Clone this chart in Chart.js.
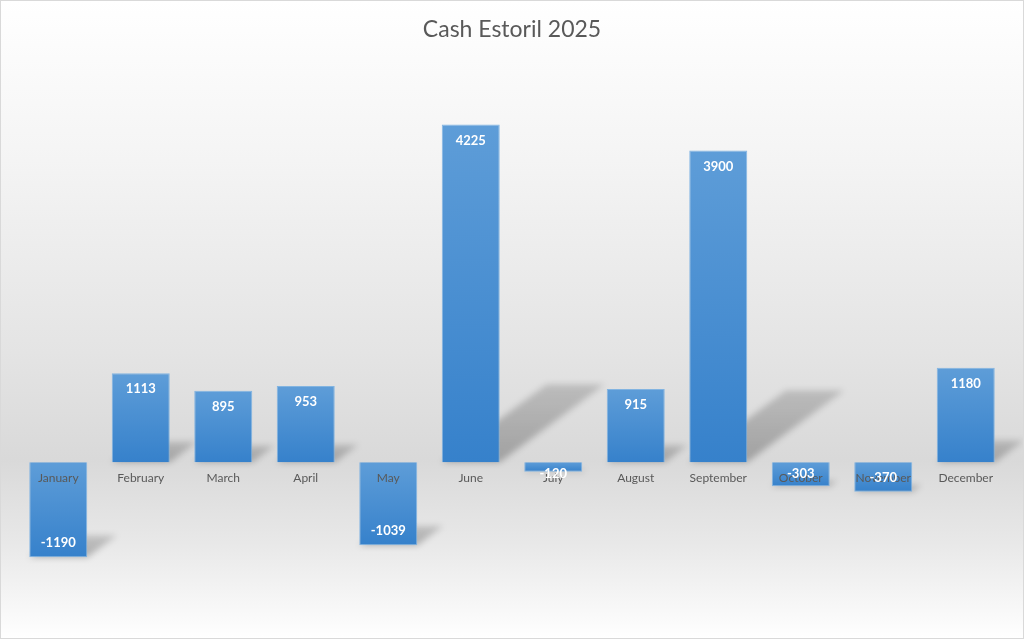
<!DOCTYPE html>
<html>
<head>
<meta charset="utf-8">
<script src="https://cdn.jsdelivr.net/npm/chart.js@4.4.1/dist/chart.umd.min.js"></script>
<style>
  html, body { margin: 0; padding: 0; background: #ffffff; }
  #wrap {
    position: relative; width: 1022px; height: 637px;
    border: 1px solid #d9d9d9;
    background: linear-gradient(to bottom, #ffffff 0%, #f4f4f4 25%, #e4e4e4 55%, #d9d9d9 72%, #e8e8e8 85%, #fafafa 97%, #ffffff 100%);
  }
  canvas { display: block; }
</style>
</head>
<body>
<div id="wrap"><canvas id="c" width="1022" height="637"></canvas></div>
<script>
const chartTitle = "Cash Estoril 2025";
const months = ["January","February","March","April","May","June","July","August","September","October","November","December"];
const cashValues = [-1190, 1113, 895, 953, -1039, 4225, -120, 915, 3900, -303, -370, 1180];
const yMin = -1725;
const yMax = 4900;

function barGradient(ctx) {
  const chart = ctx.chart;
  const ys = chart.scales && chart.scales.y;
  if (!chart.chartArea || !ys || ctx.parsed === undefined) return '#4a90d2';
  const v = ctx.parsed.y;
  const p0 = ys.getPixelForValue(0);
  const p1 = ys.getPixelForValue(v);
  const top = Math.min(p0, p1), bot = Math.max(p0, p1);
  const g = chart.ctx.createLinearGradient(0, top, 0, bot + 0.01);
  g.addColorStop(0, '#5e9dd8');
  g.addColorStop(1, '#3681cb');
  return g;
}

const shadowPlugin = {
  id: 'perspShadow',
  beforeDatasetsDraw(chart) {
    const ctx = chart.ctx;
    const meta = chart.getDatasetMeta(0);
    ctx.save();
    ctx.filter = 'blur(3px)';
    meta.data.forEach(bar => {
      const p = bar.getProps(['x','y','base','width'], true);
      const top = Math.min(p.y, p.base), bot = Math.max(p.y, p.base);
      const h = bot - top;
      if (h < 3) return;
      const l = p.x - p.width / 2, r = p.x + p.width / 2;
      const dx = 0.31 * h, dy = 0.23 * h;
      const g = ctx.createLinearGradient(0, bot, 0, bot - dy);
      g.addColorStop(0, 'rgba(0,0,0,0.26)');
      g.addColorStop(1, 'rgba(0,0,0,0.16)');
      ctx.fillStyle = g;
      ctx.beginPath();
      ctx.moveTo(l, bot);
      ctx.lineTo(r, bot);
      ctx.lineTo(r + dx, bot - dy);
      ctx.lineTo(l + dx, bot - dy);
      ctx.closePath();
      ctx.fill();
    });
    ctx.restore();
  }
};

const labelsPlugin = {
  id: 'labelsPlugin',
  afterDatasetsDraw(chart) {
    const ctx = chart.ctx;
    const xs = chart.scales.x, ys = chart.scales.y;
    const zero = ys.getPixelForValue(0);
    ctx.save();
    ctx.textAlign = 'center';
    ctx.textBaseline = 'middle';
    // category labels
    ctx.font = '12px Lato, "Liberation Sans", sans-serif';
    ctx.fillStyle = '#595959';
    months.forEach((m, i) => {
      ctx.fillText(m, xs.getPixelForValue(i), zero + 16);
    });
    // data labels
    ctx.font = 'bold 13px Lato, "Liberation Sans", sans-serif';
    ctx.fillStyle = '#ffffff';
    const meta = chart.getDatasetMeta(0);
    meta.data.forEach((bar, i) => {
      const v = cashValues[i];
      const p = bar.getProps(['x','y','base'], true);
      const top = Math.min(p.y, p.base), bot = Math.max(p.y, p.base);
      let ty;
      if (v >= 0) ty = Math.min(top + 16, (top + bot) / 2);
      else ty = Math.max(bot - 14, zero + 12);
      ctx.fillText(String(v), p.x, ty);
    });
    ctx.restore();
  }
};

new Chart(document.getElementById('c'), {
  type: 'bar',
  data: {
    labels: months,
    datasets: [{
      data: cashValues,
      backgroundColor: barGradient,
      borderColor: 'rgba(120,175,225,0.9)',
      borderWidth: 1,
      categoryPercentage: 1.0,
      barPercentage: 0.703
    }]
  },
  options: {
    responsive: false,
    animation: false,
    layout: { padding: { left: 16, right: 16, top: 0, bottom: 38 } },
    plugins: {
      legend: { display: false },
      tooltip: { enabled: false },
      title: {
        display: true,
        text: chartTitle,
        color: '#595959',
        font: { family: 'Lato, "Liberation Sans", sans-serif', size: 23, weight: 'normal' },
        padding: { top: 15, bottom: 27 }
      }
    },
    scales: {
      x: { display: false },
      y: { display: false, min: yMin, max: yMax }
    }
  },
  plugins: [shadowPlugin, labelsPlugin]
});
</script>
</body>
</html>
